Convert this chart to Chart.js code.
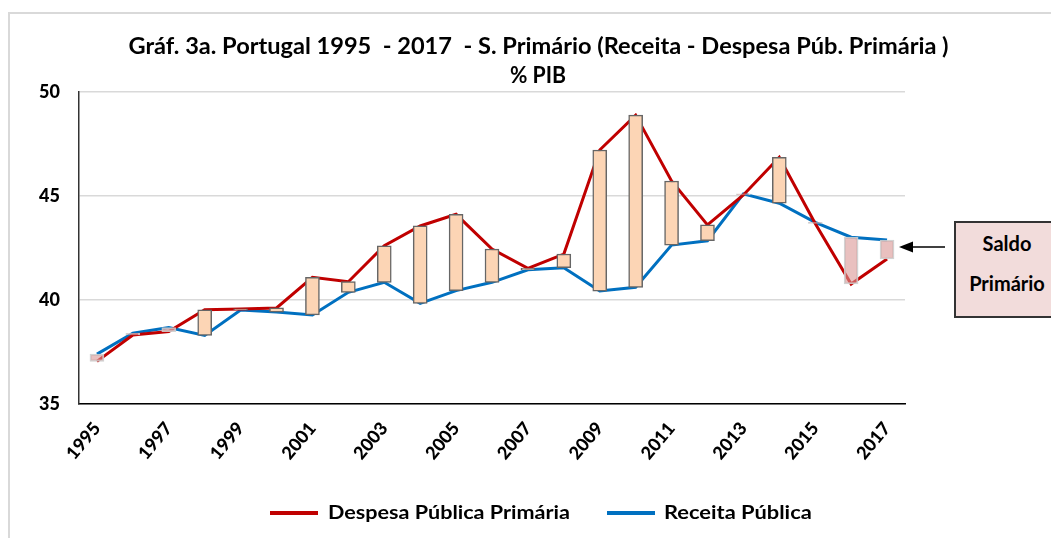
<!DOCTYPE html>
<html>
<head>
<meta charset="utf-8">
<script src="https://cdn.jsdelivr.net/npm/chart.js@4.4.1/dist/chart.umd.min.js"></script>
<style>
  html, body { margin: 0; padding: 0; background: #fff; }
  #wrap { position: relative; width: 1051px; height: 538px; overflow: hidden; font-family: Lato, "Open Sans", sans-serif; }
  #frame { position: absolute; left: 8px; top: 12px; width: 1100px; height: 600px; border: 2px solid #d9d9d9; box-sizing: border-box; }
  #cv { position: absolute; left: 0; top: 0; }
  .t { position: absolute; white-space: nowrap; font-weight: bold; color: #000; }
  #title1 { top: 32px; font-size: 22px; transform-origin: center center; }
  #title2 { top: 61px; font-size: 22px; transform-origin: center center; }
  .leg { position: absolute; font-weight: bold; font-size: 18px; top: 501px; white-space: nowrap; }
  .legline { position: absolute; height: 4px; width: 48px; top: 511px; }
  #box { position: absolute; left: 954px; top: 221px; width: 106px; height: 97px; background: #F2DCDB; border: 2px solid #333; box-sizing: border-box; }
  #box div { position: absolute; left: 0; width: 102px; text-align: center; font-weight: bold; font-size: 20px; }
</style>
</head>
<body>
<div id="wrap">
  <div id="frame"></div>
  <canvas id="cv" width="1051" height="538"></canvas>
  <div class="t" id="title1">Gráf. 3a. Portugal 1995&nbsp; - 2017&nbsp; - S. Primário (Receita - Despesa Púb. Primária )</div>
  <div class="t" id="title2">% PIB</div>
  <div class="legline" style="left:270px;background:#C00000"></div>
  <div class="leg" id="leg1" style="left:328px">Despesa Pública Primária</div>
  <div class="legline" style="left:607px;background:#0070C0"></div>
  <div class="leg" id="leg2" style="left:664px">Receita Pública</div>
  <div id="box"><div style="top:8px">Saldo</div><div style="top:48px">Primário</div></div>
  <svg style="position:absolute;left:0;top:0" width="1051" height="538">
    <line x1="945" y1="247" x2="910" y2="247" stroke="#000" stroke-width="1.5"/>
    <polygon points="899,247 913,241.5 913,252.5" fill="#000"/>
  </svg>
</div>
<script>
const years = ['1995','1996','1997','1998','1999','2000','2001','2002','2003','2004','2005','2006','2007','2008','2009','2010','2011','2012','2013','2014','2015','2016','2017'];
const despesa = [37.05, 38.32, 38.48, 39.53, 39.57, 39.62, 41.09, 40.88, 42.61, 43.56, 44.12, 42.45, 41.52, 42.21, 47.21, 48.89, 45.72, 43.61, 45.05, 46.86, 43.68, 40.77, 41.97];
const receita = [37.40, 38.40, 38.68, 38.30, 39.52, 39.42, 39.28, 40.37, 40.85, 39.84, 40.45, 40.85, 41.45, 41.55, 40.43, 40.61, 42.64, 42.85, 45.10, 44.65, 43.73, 43.02, 42.88];
const yTicks = [35, 40, 45, 50];

const saldoBars = despesa.map((d, i) => [receita[i], d]);

const upFill = '#FCD5B5', upBorder = '#666666';
const downFill = 'rgba(218,150,148,0.6)', downBorder = 'rgba(205,205,205,0.9)';

new Chart(document.getElementById('cv'), {
  type: 'bar',
  data: {
    labels: years,
    datasets: [
      {
        type: 'bar',
        label: 'Saldo',
        data: saldoBars,
        order: 0,
        barThickness: 14,
        borderWidth: 1.5,
        borderSkipped: false,
        grouped: false,
        backgroundColor: c => { const r = c.raw; return r && r[1] >= r[0] ? upFill : downFill; },
        borderColor: c => { const r = c.raw; return r && r[1] >= r[0] ? upBorder : downBorder; }
      },
      {
        type: 'line',
        label: 'Despesa Pública Primária',
        data: despesa,
        order: 1,
        borderColor: '#C00000',
        backgroundColor: '#C00000',
        borderWidth: 3,
        pointRadius: 0,
        tension: 0,
        fill: false
      },
      {
        type: 'line',
        label: 'Receita Pública',
        data: receita,
        order: 2,
        borderColor: '#0070C0',
        backgroundColor: '#0070C0',
        borderWidth: 3,
        pointRadius: 0,
        tension: 0,
        fill: false
      }
    ]
  },
  options: {
    responsive: false,
    animation: false,
    devicePixelRatio: 1,
    layout: { padding: { left: 8, top: 92, right: 146, bottom: 0 } },
    plugins: { legend: { display: false }, title: { display: false }, tooltip: { enabled: false } },
    scales: {
      x: {
        type: 'category',
        offset: true,
        grid: { display: false, drawTicks: false },
        border: { display: true, color: '#000', width: 1.5 },
        ticks: {
          autoSkip: false, maxRotation: 50, minRotation: 50, padding: 14, color: '#000',
          font: { family: 'Lato', weight: '900', size: 18 },
          callback: (v, i) => (i % 2 === 0 ? years[i] : '')
        },
        afterFit: s => { s.height = 134; }
      },
      y: {
        min: yTicks[0], max: yTicks[yTicks.length - 1],
        afterBuildTicks: s => { s.ticks = yTicks.map(v => ({ value: v })); },
        grid: { color: '#d9d9d9', lineWidth: 1.5, drawTicks: false },
        border: { display: true, color: '#333', width: 1.5 },
        ticks: { padding: 19, color: '#000', font: { family: 'Lato', weight: '900', size: 18 } },
        afterFit: s => { s.width = 71; }
      }
    }
  }
});

function place() {
  const t1 = document.getElementById('title1');
  const w1 = t1.offsetWidth;
  t1.style.left = (538 - w1 / 2) + 'px';
  t1.style.transform = 'scaleX(' + (820 / w1) + ')';
  const t2 = document.getElementById('title2');
  const w2 = t2.offsetWidth;
  t2.style.left = (538 - w2 / 2) + 'px';
  t2.style.transform = 'scaleX(' + (56 / w2) + ')';
  const l1 = document.getElementById('leg1');
  l1.style.transformOrigin = 'left center';
  l1.style.transform = 'scaleX(' + (242 / l1.offsetWidth) + ')';
  const l2 = document.getElementById('leg2');
  l2.style.transformOrigin = 'left center';
  l2.style.transform = 'scaleX(' + (148 / l2.offsetWidth) + ')';
}
place();
if (document.fonts && document.fonts.ready) document.fonts.ready.then(place);
</script>
</body>
</html>
